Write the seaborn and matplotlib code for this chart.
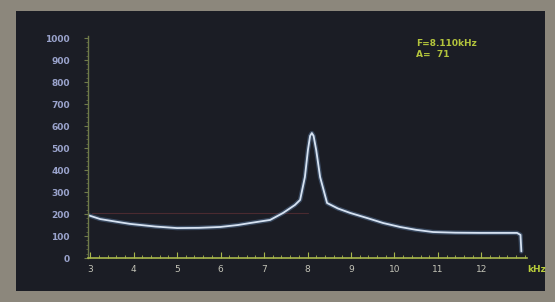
import numpy as np
import pandas as pd
import matplotlib
matplotlib.use("Agg")
import matplotlib.pyplot as plt
from matplotlib.patches import Rectangle
import seaborn as sns

# Spectrum trace (frequency in kHz, amplitude)
freq = [2.95, 3.23, 3.6, 3.92, 4.5, 5.0, 5.5, 5.99, 6.4, 6.68, 7.14, 7.44, 7.71, 7.83,
        7.94, 8.01, 8.06, 8.10, 8.14, 8.20, 8.29, 8.45, 8.7, 8.98, 9.4, 9.74, 10.13,
        10.5, 10.89, 11.4, 11.97, 12.4, 12.82, 12.90, 12.92]
amp = [195, 177, 165, 155, 143, 136, 137, 141, 150, 159, 173, 205, 241, 264,
       368, 491, 555, 568, 555, 491, 368, 250, 225, 205, 180, 159, 141,
       128, 118, 115, 114, 114, 114, 105, 30]

y_ticks = [0, 100, 200, 300, 400, 500, 600, 700, 800, 900, 1000]
y_labels = ["0", "100", "200", "300", "400", "500", "600", "700", "800", "900", "1000"]
x_ticks = [3, 4, 5, 6, 7, 8, 9, 10, 11, 12]
x_labels = ["3", "4", "5", "6", "7", "8", "9", "10", "11", "12"]
unit_label = "kHz"
readout = ["F=8.110kHz", "A=  71"]

df = pd.DataFrame({"freq": freq, "amp": amp})

sns.set_style("dark")
fig = plt.figure(figsize=(5.55, 3.02), dpi=100)
fig.patch.set_facecolor("#8c877c")

screen = "#1b1d25"
# screen area of the photographed display
fig.patches.append(Rectangle((16 / 555, 1 - 291 / 302), (545 - 16) / 555, (291 - 11) / 302,
                             transform=fig.transFigure, facecolor=screen, edgecolor="none",
                             zorder=-10))

ax = fig.add_axes([88 / 555, 1 - 258 / 302, 439 / 555, (258 - 35.8) / 302])
ax.set_facecolor(screen)
ax.set_zorder(1)

axis_col = "#a9b84c"
# glow under the trace
sns.lineplot(data=df, x="freq", y="amp", ax=ax, color="#5f7fa8", linewidth=3.2, alpha=0.45)
sns.lineplot(data=df, x="freq", y="amp", ax=ax, color="#d6e2f2", linewidth=1.3)

# faint reddish frame line inside the screen
ax.axhline(205, xmin=0.01, xmax=0.5, color="#4a2a30", lw=0.8, zorder=0)

ax.set_xlim(2.95, 13.05)
ax.set_ylim(0, 1010)
ax.set_xlabel("")
ax.set_ylabel("")
ax.grid(False)

ax.set_yticks(y_ticks)
ax.set_yticklabels(y_labels)
ax.set_xticks(x_ticks)
ax.set_xticklabels(x_labels)
ax.set_xticks(np.arange(3, 13.01, 0.2), minor=True)
ax.set_yticks(np.arange(0, 1001, 20), minor=True)

ax.tick_params(axis="both", which="both", bottom=True, left=True, top=False, right=False)
ax.tick_params(axis="y", which="major", colors="#6f7a4a", labelcolor="#9aa3cc", labelsize=6.5,
               length=3, direction="out", pad=10, width=0.8)
ax.tick_params(axis="y", which="minor", colors="#5f6a40", length=1.5, direction="out", width=0.6)
ax.tick_params(axis="x", which="major", colors=axis_col, labelcolor="#c4c4b8", labelsize=6.5,
               length=4, direction="in", pad=5, width=0.8)
ax.tick_params(axis="x", which="minor", colors=axis_col, length=2.5, direction="in", width=0.6)
for lab in ax.get_yticklabels():
    lab.set_fontweight("bold")

for s in ["top", "right"]:
    ax.spines[s].set_visible(False)
ax.spines["bottom"].set_color(axis_col)
ax.spines["bottom"].set_linewidth(1.2)
ax.spines["left"].set_color("#6f7a4a")
ax.spines["left"].set_linewidth(1.0)

ax.text(13.05, -30, unit_label, color="#b8cc3a", fontsize=6.5, fontweight="bold",
        ha="left", va="top", clip_on=False)
ax.text(0.748, 0.985, readout[0], transform=ax.transAxes, color="#b3c43c", fontsize=6.5,
        ha="left", va="top", fontweight="bold")
ax.text(0.748, 0.935, readout[1], transform=ax.transAxes, color="#b3c43c", fontsize=6.5,
        ha="left", va="top", fontweight="bold")

fig.savefig("out.png", dpi=100, facecolor=fig.get_facecolor())
